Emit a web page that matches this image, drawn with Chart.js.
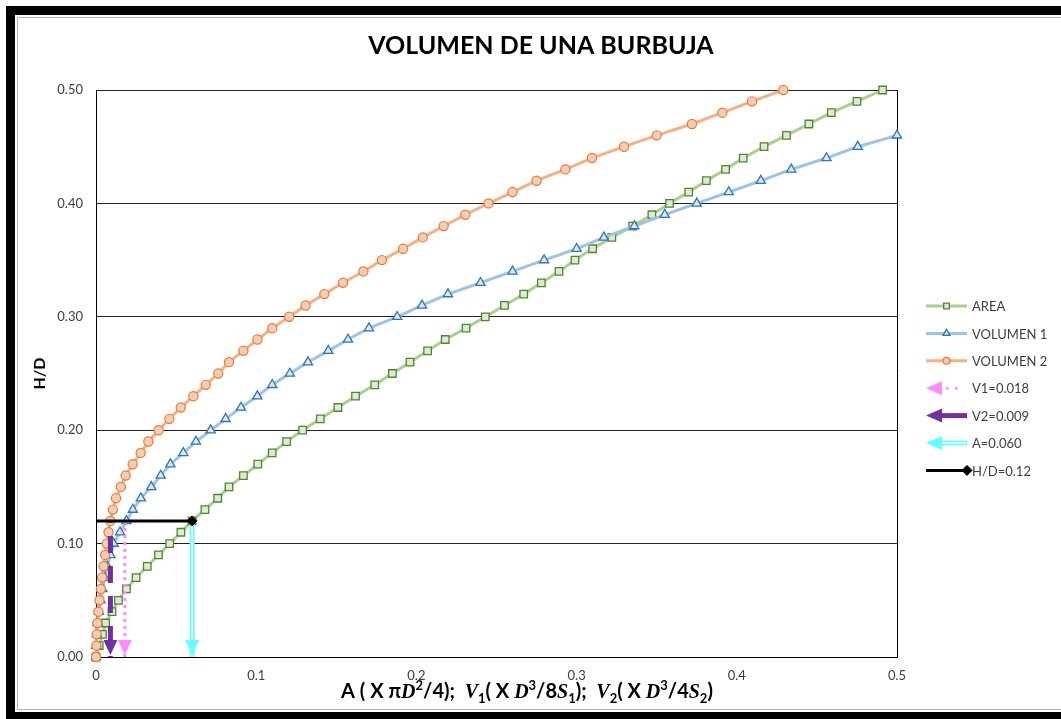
<!DOCTYPE html>
<html>
<head>
<meta charset="utf-8">
<script src="https://cdn.jsdelivr.net/npm/chart.js@4.4.1/dist/chart.umd.min.js"></script>
<style>
  html, body { margin: 0; padding: 0; background: #fff; overflow: hidden; }
  #wrap { position: relative; width: 1061px; height: 719px; }
  #frame { position: absolute; left: 6px; top: 6px; width: 1100px; height: 713px; box-sizing: border-box;
           border-left: 9px solid #000; border-top: 9px solid #000; border-bottom: 7px solid #000; pointer-events: none; }
  #frame div { position: absolute; left: 2px; top: 2px; right: 0; bottom: 2px; border: 1px solid #b4b4b4; border-right: none; }
</style>
</head>
<body>
<div id="wrap">
  <canvas id="burbuja" width="1061" height="719"></canvas>
  <div id="frame"><div></div></div>
</div>
<script>
// H/D levels (y values)
var hdLevels = [0.00, 0.01, 0.02, 0.03, 0.04, 0.05, 0.06, 0.07, 0.08, 0.09,
                0.10, 0.11, 0.12, 0.13, 0.14, 0.15, 0.16, 0.17, 0.18, 0.19,
                0.20, 0.21, 0.22, 0.23, 0.24, 0.25, 0.26, 0.27, 0.28, 0.29,
                0.30, 0.31, 0.32, 0.33, 0.34, 0.35, 0.36, 0.37, 0.38, 0.39,
                0.40, 0.41, 0.42, 0.43, 0.44, 0.45, 0.46, 0.47, 0.48, 0.49, 0.50];

// AREA ( x pi D^2/4 ) for each H/D
var areaX = [0.000, 0.002, 0.004, 0.006, 0.010, 0.014, 0.019, 0.025, 0.032, 0.039,
             0.046, 0.053, 0.060, 0.068, 0.076, 0.083, 0.092, 0.101, 0.110, 0.119,
             0.129, 0.140, 0.151, 0.162, 0.174, 0.185, 0.196, 0.207, 0.218, 0.231,
             0.243, 0.255, 0.267, 0.278, 0.289, 0.299, 0.310, 0.322, 0.335, 0.347,
             0.358, 0.370, 0.381, 0.393, 0.404, 0.417, 0.431, 0.445, 0.459, 0.475, 0.491];

// VOLUMEN 1 (stops at H/D = 0.46, right edge of the chart)
var vol1X = [0.0000, 0.0001, 0.0005, 0.0010, 0.0018, 0.0028, 0.0040, 0.0055, 0.0070, 0.0090,
             0.0110, 0.0150, 0.0190, 0.0230, 0.0280, 0.0345, 0.0404, 0.0464, 0.0545, 0.0624,
             0.0716, 0.0809, 0.0905, 0.1007, 0.1100, 0.1210, 0.1323, 0.1450, 0.1573, 0.1704,
             0.1880, 0.2035, 0.2197, 0.2400, 0.2600, 0.2797, 0.3000, 0.3170, 0.3360, 0.3550,
             0.3750, 0.3950, 0.4150, 0.4340, 0.4560, 0.4755, 0.5000];

// VOLUMEN 2
var vol2X = [0.0000, 0.0002, 0.0004, 0.0008, 0.0015, 0.0022, 0.0030, 0.0038, 0.0047, 0.0057,
             0.0067, 0.0078, 0.0090, 0.0105, 0.0125, 0.0155, 0.0185, 0.0229, 0.0279, 0.0327,
             0.0391, 0.0458, 0.0529, 0.0608, 0.0685, 0.0763, 0.0830, 0.0920, 0.1008, 0.1100,
             0.1206, 0.1308, 0.1425, 0.1542, 0.1669, 0.1785, 0.1917, 0.2040, 0.2170, 0.2305,
             0.2450, 0.2600, 0.2750, 0.2930, 0.3096, 0.3296, 0.3500, 0.3720, 0.3910, 0.4095, 0.4290];

// reading lines
var v1LineX = [0.018, 0.018];
var v2LineX = [0.009, 0.009];
var aLineX = [0.060, 0.060];
var arrowY = [0.12, 0.00];
var hdLineX = [0.00, 0.060];
var hdLineY = [0.12, 0.12];

var chartTitle = 'VOLUMEN DE UNA BURBUJA';
var yTitle = 'H/D';

function toPoints(xs, ys) {
    return xs.map(function(x, i) { return {x: x, y: ys[i]}; });
}

function markerPath(ctx, style, x, y, r) {
    ctx.beginPath();
    if (style === 'rect') {
        var s = r * Math.SQRT1_2;
        ctx.rect(x - s, y - s, 2 * s, 2 * s);
    } else if (style === 'triangle') {
        var a = 0;
        ctx.moveTo(x + Math.sin(a) * r, y - Math.cos(a) * r);
        a += 2 * Math.PI / 3;
        ctx.lineTo(x + Math.sin(a) * r, y - Math.cos(a) * r);
        a += 2 * Math.PI / 3;
        ctx.lineTo(x + Math.sin(a) * r, y - Math.cos(a) * r);
        ctx.closePath();
    } else if (style === 'rectRot') {
        ctx.moveTo(x, y - r); ctx.lineTo(x + r, y); ctx.lineTo(x, y + r); ctx.lineTo(x - r, y);
        ctx.closePath();
    } else {
        ctx.arc(x, y, r, 0, Math.PI * 2);
    }
}

function arrowHead(ctx, tipX, tipY, angle, len, half, color) {
    ctx.save();
    ctx.translate(tipX, tipY);
    ctx.rotate(angle);
    ctx.beginPath();
    ctx.moveTo(0, 0);
    ctx.lineTo(-len, -half);
    ctx.lineTo(-len, half);
    ctx.closePath();
    ctx.fillStyle = color;
    ctx.fill();
    ctx.restore();
}

// legend sample for one dataset
function drawSample(ctx, ds, x0, x1, y) {
    ctx.save();
    if (ds.arrowHead) {
        ctx.strokeStyle = ds.borderColor;
        ctx.lineWidth = ds.borderWidth;
        ctx.setLineDash(ds.legendDash || []);
        ctx.lineCap = ds.legendDash ? 'round' : 'butt';
        ctx.beginPath();
        ctx.moveTo(x0 + 12, y);
        ctx.lineTo(ds.legendDash ? x1 - 4 : x1, y);
        ctx.stroke();
        if (ds.doubleLine) {
            ctx.setLineDash([]);
            ctx.strokeStyle = '#fff';
            ctx.lineWidth = 1.5;
            ctx.beginPath();
            ctx.moveTo(x0 + 12, y);
            ctx.lineTo(x1 - 1, y);
            ctx.stroke();
        }
        arrowHead(ctx, x0, y, Math.PI, 16, 7, ds.arrowHead);
    } else {
        ctx.strokeStyle = ds.borderColor;
        ctx.lineWidth = ds.borderWidth;
        ctx.beginPath();
        ctx.moveTo(x0, y);
        ctx.lineTo(x1, y);
        ctx.stroke();
        var r = Array.isArray(ds.pointRadius) ? ds.pointRadius[ds.pointRadius.length - 1] : ds.pointRadius;
        var mx = Array.isArray(ds.pointRadius) ? x1 : (x0 + x1) / 2;
        markerPath(ctx, ds.pointStyle, mx, y, ds.pointStyle === 'rectRot' ? r : r * 0.75);
        ctx.fillStyle = ds.pointBackgroundColor;
        ctx.fill();
        ctx.lineWidth = ds.pointBorderWidth;
        ctx.strokeStyle = ds.pointBorderColor;
        ctx.stroke();
    }
    ctx.restore();
}

var xTitleParts = [
    ['A ( X \u03c0', 'plain'], ['D', 'ital'], ['2', 'sup'], ['/4);  ', 'plain'],
    ['V', 'ital'], ['1', 'sub'], ['( X ', 'plain'], ['D', 'ital'], ['3', 'sup'], ['/8', 'plain'], ['S', 'ital'], ['1', 'sub'], [');  ', 'plain'],
    ['V', 'ital'], ['2', 'sub'], ['( X ', 'plain'], ['D', 'ital'], ['3', 'sup'], ['/4', 'plain'], ['S', 'ital'], ['2', 'sub'], [')', 'plain']
];
var partFonts = {
    plain: 'bold 20px Lato',
    ital: 'italic bold 20px "Liberation Serif"',
    sup: 'bold 13px Lato',
    sub: 'bold 13px Lato'
};
var partShift = {plain: 0, ital: 0, sup: -8, sub: 5};

var extras = {
    id: 'extras',
    afterDatasetDraw: function(chart, args) {
        var ds = chart.data.datasets[args.index];
        var pts = args.meta.data;
        var ctx = chart.ctx;
        if (ds.doubleLine) {
            ctx.save();
            ctx.strokeStyle = '#fff';
            ctx.lineWidth = 1.5;
            ctx.beginPath();
            ctx.moveTo(pts[0].x, pts[0].y);
            for (var i = 1; i < pts.length; i++) ctx.lineTo(pts[i].x, pts[i].y);
            ctx.stroke();
            ctx.restore();
        }
        if (ds.arrowHead) {
            var a = pts[pts.length - 2], b = pts[pts.length - 1];
            arrowHead(ctx, b.x, b.y - 2, Math.atan2(b.y - a.y, b.x - a.x), 15, 7, ds.arrowHead);
        }
    },
    afterDraw: function(chart) {
        var ctx = chart.ctx;
        var area = chart.chartArea;
        ctx.save();
        // title
        ctx.fillStyle = '#000';
        ctx.font = 'bold 25px Lato';
        ctx.textAlign = 'center';
        ctx.textBaseline = 'middle';
        ctx.fillText(chartTitle, 541, 46);

        // x axis title with italic / sub / superscript parts
        ctx.textAlign = 'left';
        ctx.textBaseline = 'alphabetic';
        var total = 0;
        xTitleParts.forEach(function(p) { ctx.font = partFonts[p[1]]; total += ctx.measureText(p[0]).width; });
        var x = 527 - total / 2, base = 698;
        xTitleParts.forEach(function(p) {
            ctx.font = partFonts[p[1]];
            ctx.fillText(p[0], x, base + partShift[p[1]]);
            x += ctx.measureText(p[0]).width;
        });

        // legend
        var lx0 = area.right + 29, lx1 = lx0 + 41, ly = 306, step = 27.4;
        chart.data.datasets.forEach(function(ds, i) {
            var y = ly + i * step;
            drawSample(ctx, ds, lx0, lx1, y);
            ctx.fillStyle = '#404040';
            ctx.font = '13px Lato';
            ctx.textBaseline = 'middle';
            ctx.fillText(ds.label, lx1 + 5, y + 1);
        });
        ctx.restore();
    }
};

var ctx = document.getElementById('burbuja').getContext('2d');
window.burbujaChart = new Chart(ctx, {
    type: 'scatter',
    data: {
        datasets: [
            {
                label: 'AREA',
                data: toPoints(areaX, hdLevels),
                showLine: true,
                borderColor: '#a9d18e',
                borderWidth: 3,
                pointStyle: 'rect',
                pointRadius: 5.3,
                pointBorderColor: '#548235',
                pointBackgroundColor: '#dcecd1',
                pointBorderWidth: 1.3,
                order: 3,
                clip: false
            },
            {
                label: 'VOLUMEN 1',
                data: toPoints(vol1X, hdLevels),
                showLine: true,
                borderColor: '#9dc3e6',
                borderWidth: 3,
                pointStyle: 'triangle',
                pointRadius: 5.3,
                pointBorderColor: '#2e75b6',
                pointBackgroundColor: '#dbe9f6',
                pointBorderWidth: 1.3,
                order: 2,
                clip: false
            },
            {
                label: 'VOLUMEN 2',
                data: toPoints(vol2X, hdLevels),
                showLine: true,
                borderColor: '#f4b183',
                borderWidth: 3,
                pointStyle: 'circle',
                pointRadius: 4.6,
                pointBorderColor: '#e5793a',
                pointBackgroundColor: '#f8cdb0',
                pointBorderWidth: 1.2,
                order: 1,
                clip: false
            },
            {
                label: 'V1=0.018',
                data: toPoints(v1LineX, arrowY),
                showLine: true,
                borderColor: '#ff8cff',
                borderWidth: 3,
                borderDash: [3, 4],
                legendDash: [0.1, 9],
                pointRadius: 0,
                arrowHead: '#ff8cff',
                order: 0
            },
            {
                label: 'V2=0.009',
                data: toPoints(v2LineX, arrowY),
                showLine: true,
                borderColor: '#7030a0',
                borderWidth: 5,
                borderDash: [17, 13],
                borderDashOffset: 15,
                pointRadius: 0,
                arrowHead: '#7030a0',
                order: 0
            },
            {
                label: 'A=0.060',
                data: toPoints(aLineX, arrowY),
                showLine: true,
                borderColor: '#66ffff',
                borderWidth: 5,
                pointRadius: 0,
                doubleLine: true,
                arrowHead: '#66ffff',
                order: 0
            },
            {
                label: 'H/D=0.12',
                data: toPoints(hdLineX, hdLineY),
                showLine: true,
                borderColor: '#000',
                borderWidth: 3,
                pointStyle: 'rectRot',
                pointRadius: [0, 5],
                pointBackgroundColor: '#000',
                pointBorderColor: '#000',
                pointBorderWidth: 1,
                order: -1,
                clip: false
            }
        ]
    },
    options: {
        responsive: false,
        animation: false,
        layout: {
            padding: {left: 18, right: 164, top: 90, bottom: 10}
        },
        plugins: {
            legend: {display: false},
            tooltip: {enabled: false}
        },
        scales: {
            x: {
                type: 'linear',
                min: 0,
                max: 0.5,
                afterFit: function(scale) { scale.height = 52; },
                ticks: {
                    stepSize: 0.1,
                    padding: 11,
                    color: '#404040',
                    font: {family: 'Lato', size: 13}
                },
                grid: {
                    drawTicks: false,
                    color: function(c) { return c.tick && Math.abs(c.tick.value - 0.5) < 1e-9 ? '#000' : 'rgba(0,0,0,0)'; },
                    lineWidth: 1
                },
                border: {color: '#000', width: 1}
            },
            y: {
                min: 0,
                max: 0.5,
                afterFit: function(scale) { scale.width = 78; },
                ticks: {
                    stepSize: 0.1,
                    padding: 13,
                    color: '#404040',
                    font: {family: 'Lato', size: 13},
                    callback: function(v) { return v.toFixed(2); }
                },
                grid: {
                    drawTicks: false,
                    color: '#222',
                    lineWidth: 1
                },
                border: {color: '#000', width: 1},
                title: {
                    display: true,
                    text: yTitle,
                    color: '#000',
                    font: {family: 'Lato', size: 16, weight: 'bold'},
                    padding: {top: 12, bottom: 0}
                }
            }
        }
    },
    plugins: [extras]
});
</script>
</body>
</html>
